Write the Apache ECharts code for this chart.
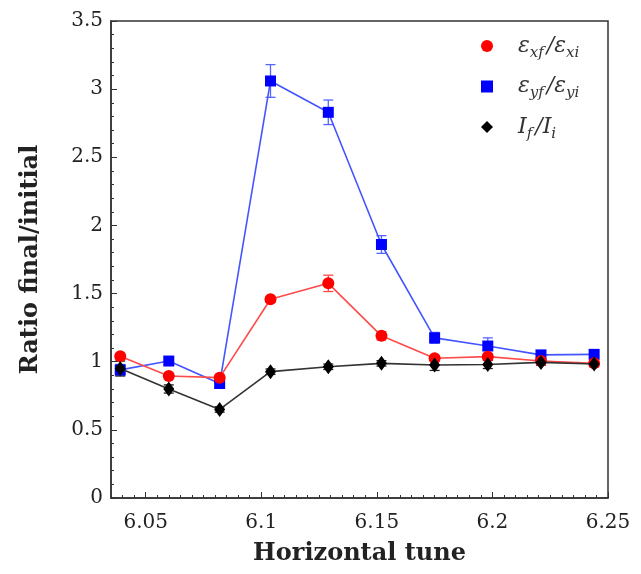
<!DOCTYPE html>
<html>
<head>
<meta charset="utf-8">
<script src="https://cdn.jsdelivr.net/npm/echarts@6/dist/echarts.min.js"></script>
<style>
  html, body { margin: 0; padding: 0; background: #fff; }
  #main { width: 641px; height: 574px; }
</style>
</head>
<body>
<div id="main"></div>
<script>
// horizontal tune of each measurement
var tune = [6.039, 6.060, 6.082, 6.104, 6.129, 6.152, 6.175, 6.198, 6.221, 6.244];
// emittance / intensity ratios (final / initial) and their error bars
var exRatio = [1.04, 0.895, 0.883, 1.458, 1.575, 1.19, 1.025, 1.037, 1.005, 0.988];
var exErr   = [0.02, 0.02, 0.02, 0.02, 0.06, 0.03, 0.02, 0.02, 0.02, 0.02];
var eyRatio = [0.94, 1.005, 0.84, 3.06, 2.83, 1.86, 1.175, 1.115, 1.05, 1.054];
var eyErr   = [0.04, 0.03, 0.02, 0.12, 0.09, 0.065, 0.04, 0.06, 0.02, 0.02];
var iRatio  = [0.95, 0.80, 0.65, 0.927, 0.963, 0.988, 0.976, 0.98, 0.995, 0.983];
var iErr    = [0.055, 0.03, 0.02, 0.02, 0.02, 0.02, 0.04, 0.03, 0.02, 0.02];
var xTicks = [6.05, 6.1, 6.15, 6.2, 6.25];

var serif = 'DejaVu Serif';
var legendText = {
    ex: '{g| }{v|ε}{s|xf}{v|/ε}{s|xi}',
    ey: '{g| }{v|ε}{s|yf}{v|/ε}{s|yi}',
    I: '{g| }{v|I}{s|f}{v|/I}{s|i}'
};

function pairs(vals) {
    return tune.map(function(t, i) { return [t, vals[i]]; });
}

function errorBars(vals, errs, color) {
    var d = tune.map(function(t, i) { return [t, vals[i] - errs[i], vals[i] + errs[i]]; });
    return {
        type: 'custom',
        data: d,
        silent: true,
        encode: { x: 0, y: [1, 2] },
        renderItem: function(params, api) {
            var lo = api.coord([api.value(0), api.value(1)]);
            var hi = api.coord([api.value(0), api.value(2)]);
            var w = 5;
            var st = { stroke: color, lineWidth: 1.3 };
            return {
                type: 'group',
                children: [
                    { type: 'line', shape: { x1: lo[0], y1: lo[1], x2: hi[0], y2: hi[1] }, style: st },
                    { type: 'line', shape: { x1: lo[0] - w, y1: lo[1], x2: lo[0] + w, y2: lo[1] }, style: st },
                    { type: 'line', shape: { x1: hi[0] - w, y1: hi[1], x2: hi[0] + w, y2: hi[1] }, style: st }
                ]
            };
        }
    };
}

var chart = echarts.init(document.getElementById('main'));
var option = {
    animation: false,
    grid: {
        left: 111, right: 33, top: 21, bottom: 76,
        show: true, borderColor: '#333', borderWidth: 1.5
    },
    legend: {
        orient: 'vertical',
        left: 476, top: 30,
        itemWidth: 12, itemHeight: 12,
        itemGap: 15,
        data: [
            { name: 'ex', icon: 'circle' },
            { name: 'ey', icon: 'rect' },
            { name: 'I', icon: 'diamond' }
        ],
        formatter: function(n) { return legendText[n]; },
        textStyle: {
            rich: {
                g: { width: 20, fontSize: 10 },
                v: { fontFamily: serif, fontStyle: 'italic', fontSize: 22, color: '#333', lineHeight: 29 },
                s: { fontFamily: serif, fontStyle: 'italic', fontSize: 15, color: '#333', verticalAlign: 'bottom', padding: [0, 3, 0, 0] }
            }
        }
    },
    xAxis: [{
        type: 'value', min: 6.035, max: 6.25, position: 'bottom',
        name: 'Horizontal tune', nameLocation: 'middle', nameGap: 44,
        nameTextStyle: { fontFamily: serif, fontWeight: 'bold', fontSize: 24, color: '#222' },
        axisLine: { show: true, lineStyle: { color: '#333', width: 1.5 } },
        axisTick: { show: true, inside: true, length: 6, customValues: xTicks, lineStyle: { color: '#333' } },
        axisLabel: { customValues: xTicks, fontFamily: serif, fontSize: 20, color: '#222', margin: 15 },
        splitLine: { show: false }
    }, {
        type: 'value', min: 6.035, max: 6.25, interval: 0.005, position: 'bottom',
        axisLine: { show: false },
        axisTick: { show: true, inside: true, length: 3, lineStyle: { color: '#333' } },
        axisLabel: { show: false },
        splitLine: { show: false }
    }],
    yAxis: {
        type: 'value', min: 0, max: 3.5, interval: 0.5,
        name: 'Ratio final/initial', nameLocation: 'middle', nameGap: 68,
        nameTextStyle: { fontFamily: serif, fontWeight: 'bold', fontSize: 24, color: '#222' },
        axisLine: { show: true, lineStyle: { color: '#333', width: 1.5 } },
        axisTick: { show: true, inside: true, length: 6, lineStyle: { color: '#333' } },
        minorTick: { show: true, splitNumber: 5, length: 3, lineStyle: { color: '#333' } },
        axisLabel: { fontFamily: serif, fontSize: 20, color: '#222', margin: 8 },
        splitLine: { show: false }
    },
    series: [
        errorBars(eyRatio, eyErr, '#5566ff'),
        {
            name: 'ey', type: 'line', data: pairs(eyRatio), z: 3,
            symbol: 'rect', symbolSize: 11,
            itemStyle: { color: '#0000ff' },
            lineStyle: { color: '#4455ff', width: 1.6 }
        },
        errorBars(exRatio, exErr, '#ff4444'),
        {
            name: 'ex', type: 'line', data: pairs(exRatio), z: 4,
            symbol: 'circle', symbolSize: 12,
            itemStyle: { color: '#ff0000' },
            lineStyle: { color: '#ff4a4a', width: 1.6 }
        },
        errorBars(iRatio, iErr, '#222'),
        {
            name: 'I', type: 'line', data: pairs(iRatio), z: 5,
            symbol: 'diamond', symbolSize: [11, 15],
            itemStyle: { color: '#000' },
            lineStyle: { color: '#333', width: 1.6 }
        }
    ]
};
chart.setOption(option);
</script>
</body>
</html>
